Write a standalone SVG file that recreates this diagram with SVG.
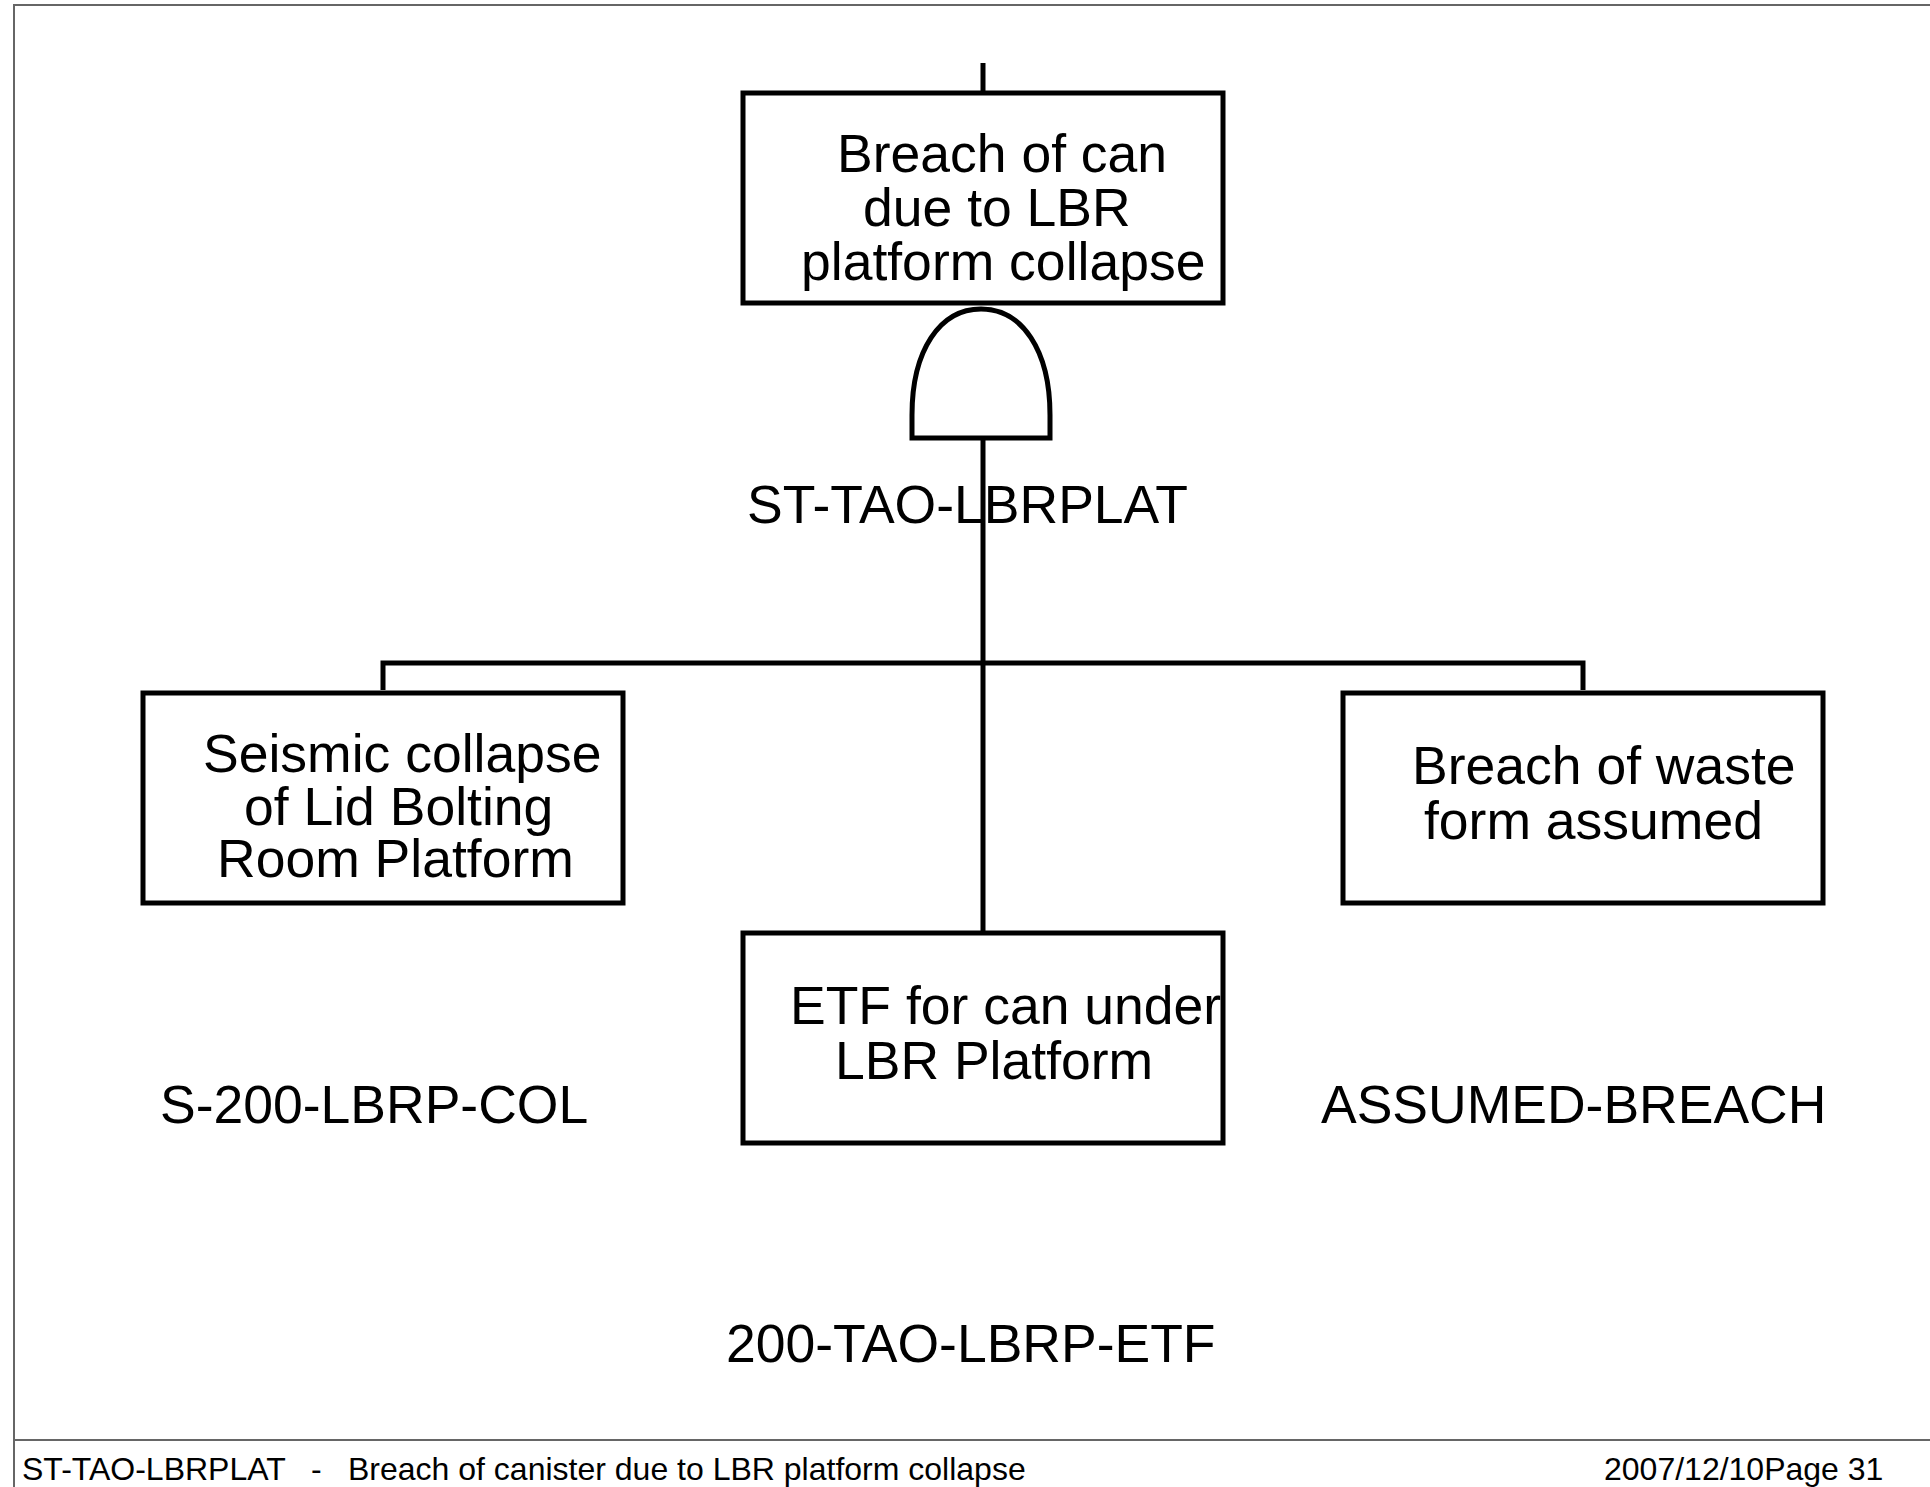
<svg xmlns="http://www.w3.org/2000/svg" width="1930" height="1487" viewBox="0 0 1930 1487">
<style>
.box{fill:#fff;stroke:#000;stroke-width:5}
.gate{fill:#fff;stroke:#000;stroke-width:5;stroke-linejoin:miter}
.con{fill:none;stroke:#000;stroke-width:5}
.frame{fill:none;stroke:#666;stroke-width:2}
.t{font-family:"Liberation Sans",Arial,sans-serif;font-size:53.5px;fill:#000}
.f{font-family:"Liberation Sans",Arial,sans-serif;font-size:32px;fill:#000}
</style>
<rect width="1930" height="1487" fill="#fff"/>
<g id="frame">
<path class="frame" d="M1930,5 H14 V1487 M14,1440 H1930"/>
</g>
<g id="connectors">
<path class="con" d="M983,63 V93"/>
<path class="con" d="M983,438 V933"/>
<path class="con" d="M383,690 V663 H1583 V690"/>
</g>
<g id="top-event">
<rect class="box" x="743" y="93" width="480" height="210"/>
<text class="t" x="837" y="172">Breach of can</text>
<text class="t" x="863" y="226">due to LBR</text>
<text class="t" x="801" y="280">platform collapse</text>
</g>
<g id="and-gate">
<path class="gate" d="M912,438 V415 C912,350 940,309 981,309 C1022,309 1050,350 1050,415 V438 Z"/>
<text class="t" x="747" y="523">ST-TAO-LBRPLAT</text>
</g>
<g id="seismic">
<rect class="box" x="143" y="693" width="480" height="210"/>
<text class="t" x="203" y="772">Seismic collapse</text>
<text class="t" x="244" y="825">of Lid Bolting</text>
<text class="t" x="217" y="877">Room Platform</text>
<text class="t" x="160" y="1123">S-200-LBRP-COL</text>
</g>
<g id="assumed">
<rect class="box" x="1343" y="693" width="480" height="210"/>
<text class="t" x="1412" y="784">Breach of waste</text>
<text class="t" x="1424" y="839">form assumed</text>
<text class="t" x="1321" y="1123">ASSUMED-BREACH</text>
</g>
<g id="etf">
<rect class="box" x="743" y="933" width="480" height="210"/>
<text class="t" x="790" y="1024">ETF for can under</text>
<text class="t" x="835" y="1079">LBR Platform</text>
<text class="t" x="726" y="1362">200-TAO-LBRP-ETF</text>
</g>
<g id="footer">
<text class="f" x="22" y="1480">ST-TAO-LBRPLAT</text>
<text class="f" x="311" y="1480">-</text>
<text class="f" x="348" y="1480">Breach of canister due to LBR platform collapse</text>
<text class="f" x="1604" y="1480">2007/12/10Page 31</text>
</g>
</svg>
